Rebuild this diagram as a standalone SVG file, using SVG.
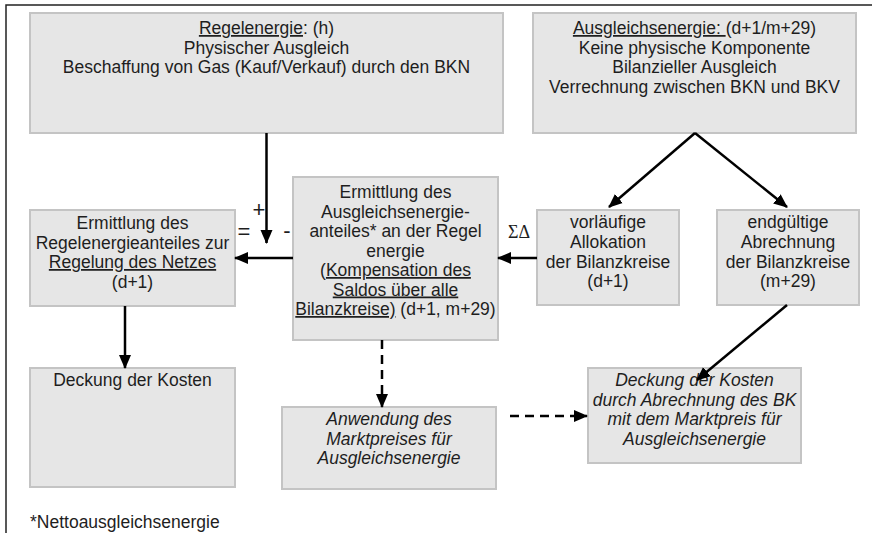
<svg xmlns="http://www.w3.org/2000/svg" width="872" height="533" viewBox="0 0 872 533">
<defs>
<style>
.box{fill:#e6e6e6;stroke:#c4c4c4;stroke-width:2}
.t{font-family:"Liberation Sans",Arial,sans-serif;font-size:17.5px;fill:#1e1e1e;text-anchor:middle}
.i{font-style:italic}
.c{stroke:#000;stroke-width:2.5;fill:none}
.d{stroke-dasharray:9,6}
.u{text-decoration:underline}
.s{font-family:"Liberation Sans",Arial,sans-serif;font-size:22px;fill:#1e1e1e;text-anchor:middle}
</style>
<marker id="ah" markerUnits="userSpaceOnUse" markerWidth="14" markerHeight="14" viewBox="0 0 14 14" refX="13" refY="7" orient="auto">
<path d="M0,1 L14,7 L0,13 Z" fill="#000"/>
</marker>
</defs>
<rect width="872" height="533" fill="#fff"/>
<path d="M6,533 V5 H872" fill="none" stroke="#222" stroke-width="1.5"/>

<g id="regelenergie">
<rect class="box" x="30" y="13" width="473" height="120"/>
<text class="t" x="266.5" y="34"><tspan class="u">Regelenergie</tspan>:  (h)</text>
<text class="t" x="266.5" y="53.5">Physischer Ausgleich</text>
<text class="t" x="266.5" y="73">Beschaffung von Gas (Kauf/Verkauf) durch den BKN</text>
</g>

<g id="ausgleichsenergie">
<rect class="box" x="533" y="13" width="323" height="120"/>
<text class="t" x="694.5" y="34"><tspan class="u">Ausgleichsenergie: </tspan>(d+1/m+29)</text>
<text class="t" x="694.5" y="53.5">Keine physische Komponente</text>
<text class="t" x="694.5" y="73">Bilanzieller Ausgleich</text>
<text class="t" x="694.5" y="92.5">Verrechnung zwischen BKN und BKV</text>
</g>

<g id="regelenergieanteil">
<rect class="box" x="30" y="210" width="205" height="96"/>
<text class="t" x="132.5" y="229">Ermittlung des</text>
<text class="t" x="132.5" y="248.5">Regelenergieanteiles zur</text>
<text class="t" x="132.5" y="268"><tspan class="u">Regelung des Netzes</tspan></text>
<text class="t" x="132.5" y="287.5">(d+1)</text>
</g>

<g id="ausgleichsenergieanteil">
<rect class="box" x="293" y="177" width="205" height="163"/>
<text class="t" x="395.5" y="198">Ermittlung des</text>
<text class="t" x="395.5" y="217.5">Ausgleichsenergie-</text>
<text class="t" x="395.5" y="237">anteiles* an der Regel</text>
<text class="t" x="395.5" y="256.5">energie</text>
<text class="t" x="395.5" y="276">(<tspan class="u">Kompensation des</tspan></text>
<text class="t" x="395.5" y="295.5"><tspan class="u">Saldos über alle</tspan></text>
<text class="t" x="395.5" y="315"><tspan class="u">Bilanzkreise)</tspan> (d+1, m+29)</text>
</g>

<g id="vorlaeufig">
<rect class="box" x="537" y="210" width="142" height="95"/>
<text class="t" x="608" y="228">vorläufige</text>
<text class="t" x="608" y="248">Allokation</text>
<text class="t" x="608" y="268">der Bilanzkreise</text>
<text class="t" x="608" y="287">(d+1)</text>
</g>

<g id="endgueltig">
<rect class="box" x="717" y="210" width="142" height="95"/>
<text class="t" x="788" y="228">endgültige</text>
<text class="t" x="788" y="248">Abrechnung</text>
<text class="t" x="788" y="268">der Bilanzkreise</text>
<text class="t" x="788" y="287">(m+29)</text>
</g>

<g id="deckung">
<rect class="box" x="30" y="368" width="205" height="119"/>
<text class="t" x="132.5" y="386">Deckung der Kosten</text>
</g>

<g id="anwendung">
<rect class="box" x="282" y="407" width="214" height="82"/>
<text class="t i" x="389" y="425">Anwendung des</text>
<text class="t i" x="389" y="444.5">Marktpreises für</text>
<text class="t i" x="389" y="464">Ausgleichsenergie</text>
</g>

<g id="deckung-bk">
<rect class="box" x="588" y="368" width="213" height="95"/>
<text class="t i" x="694.5" y="386">Deckung der Kosten</text>
<text class="t i" x="694.5" y="405.5">durch Abrechnung des BK</text>
<text class="t i" x="694.5" y="425">mit dem Marktpreis für</text>
<text class="t i" x="694.5" y="444.5">Ausgleichsenergie</text>
</g>

<g id="connectors">
<line class="c" x1="266.5" y1="133" x2="266.5" y2="243" marker-end="url(#ah)"/>
<line class="c" x1="293" y1="258" x2="235" y2="258" marker-end="url(#ah)"/>
<line class="c" x1="537" y1="258" x2="498" y2="258" marker-end="url(#ah)"/>
<line class="c" x1="695" y1="133" x2="609" y2="207" marker-end="url(#ah)"/>
<line class="c" x1="695" y1="133" x2="787" y2="207" marker-end="url(#ah)"/>
<line class="c" x1="787" y1="305" x2="697" y2="380" marker-end="url(#ah)"/>
<line class="c" x1="125" y1="306" x2="125" y2="368" marker-end="url(#ah)"/>
<line class="c d" x1="382" y1="340" x2="382" y2="407" marker-end="url(#ah)"/>
<line class="c d" x1="510" y1="416" x2="587" y2="416" marker-end="url(#ah)"/>
<text class="s" x="259" y="217">+</text>
<text class="s" x="244" y="239">=</text>
<text class="s" x="287" y="238">-</text>
<text x="519" y="238" style="font-family:'Liberation Serif','Times New Roman',serif;font-size:18px;fill:#1e1e1e;text-anchor:middle">ΣΔ</text>
</g>

<text x="30" y="528" style="font-family:'Liberation Sans',Arial,sans-serif;font-size:17.5px;fill:#1e1e1e">*Nettoausgleichsenergie</text>
</svg>
